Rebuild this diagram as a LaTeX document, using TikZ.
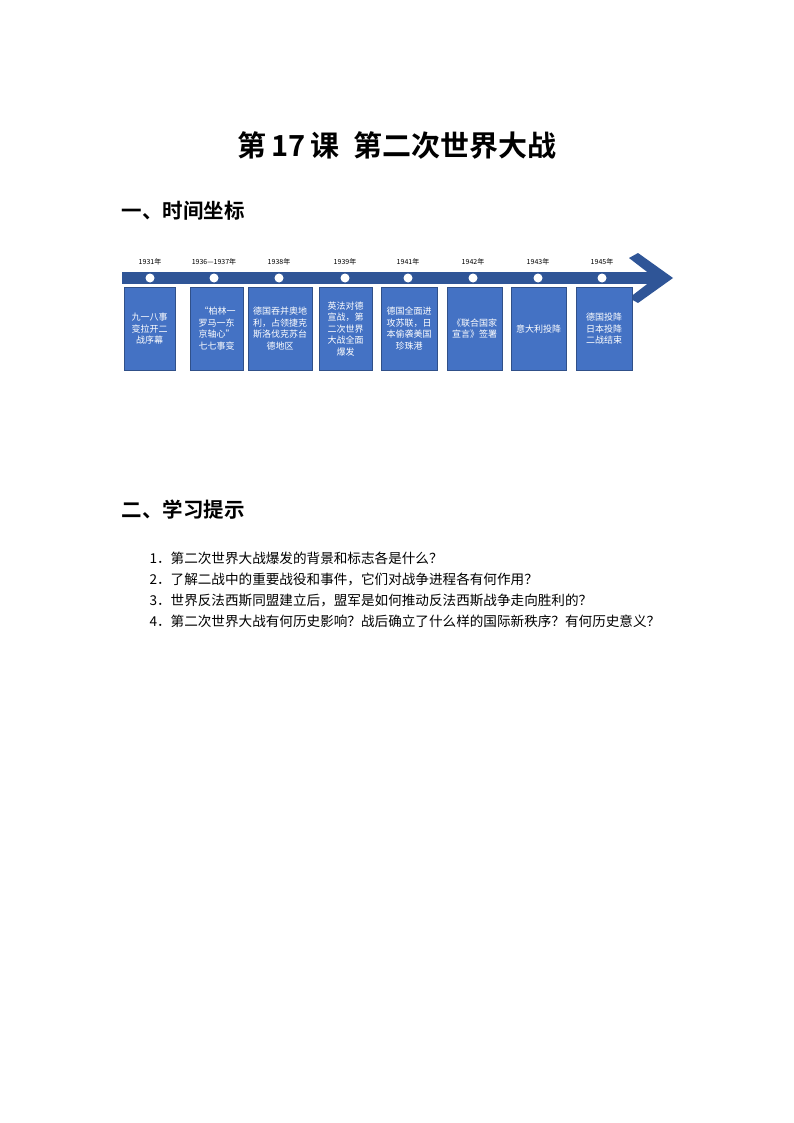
\documentclass[tikz,border=0pt]{standalone}
\usepackage{fontspec}
\setmainfont{Noto Sans CJK SC}[BoldFont={Noto Sans CJK SC Bold}]
\begin{document}
\begin{tikzpicture}[x=1pt,y=-1pt,
  ev/.style={fill=boxblue,draw=boxblue!70!black,line width=0.4pt,text=white,font=\fontsize{9}{11.5}\selectfont,align=center,inner sep=1pt,anchor=north west,minimum height=83pt},
  yr/.style={font=\fontsize{7}{8}\selectfont},
  dot/.style={circle,fill=white,inner sep=0pt,minimum size=9pt},
  item/.style={anchor=west,font=\fontsize{13.6}{15}\selectfont}]
\definecolor{boxblue}{HTML}{4472C4}
\definecolor{barblue}{HTML}{2F5597}
\useasboundingbox[fill=white] (0,0) rectangle (794,1123);
\node[font=\bfseries\fontsize{29}{32}\selectfont] (title) at (397,145) {第\,17\,课\ \ 第二次世界大战};
\node[anchor=west,font=\bfseries\fontsize{20.5}{22}\selectfont] (h1) at (118,211) {一、时间坐标};
\node[anchor=west,font=\bfseries\fontsize{20.5}{22}\selectfont] (h2) at (118,510) {二、学习提示};
% bar
\fill[barblue] (122,272) rectangle (662,284);
\fill[barblue] (629,258) -- (638,253) -- (673,278) -- (638,303) -- (629,298) -- (655,278) -- cycle;
\foreach \x/\y/\n in {150/1931年/a,214/1936—1937年/b,279/1938年/c,345/1939年/d,408/1941年/e,473/1942年/f,538/1943年/g,602/1945年/h}{
  \node[dot] (d\n) at (\x,278) {};
  \node[yr] (y\n) at (\x,262) {\y};
}
\node[ev,minimum width=51pt] (b1) at (124,287) {九一八事\\变拉开二\\战序幕};
\node[ev,minimum width=53pt] (b2) at (190,287) {\ “柏林一\\罗马一东\\京轴心”\\七七事变};
\node[ev,minimum width=64pt] (b3) at (248,287) {德国吞并奥地\\利，占领捷克\\斯洛伐克苏台\\德地区};
\node[ev,minimum width=53pt] (b4) at (319,287) {英法对德\\宣战，第\\二次世界\\大战全面\\爆发};
\node[ev,minimum width=56pt] (b5) at (381,287) {德国全面进\\攻苏联，日\\本偷袭美国\\珍珠港};
\node[ev,minimum width=55pt] (b6) at (447,287) {《联合国家\\宣言》签署};
\node[ev,minimum width=55pt] (b7) at (511,287) {意大利投降};
\node[ev,minimum width=56pt] (b8) at (576,287) {德国投降\\日本投降\\二战结束};
\node[item] (i1) at (146,558) {1．第二次世界大战爆发的背景和标志各是什么？};
\node[item] (i2) at (146,579) {2．了解二战中的重要战役和事件，它们对战争进程各有何作用？};
\node[item] (i3) at (146,600) {3．世界反法西斯同盟建立后，盟军是如何推动反法西斯战争走向胜利的？};
\node[item] (i4) at (146,621) {4．第二次世界大战有何历史影响？战后确立了什么样的国际新秩序？有何历史意义？};
\end{tikzpicture}
\end{document}
